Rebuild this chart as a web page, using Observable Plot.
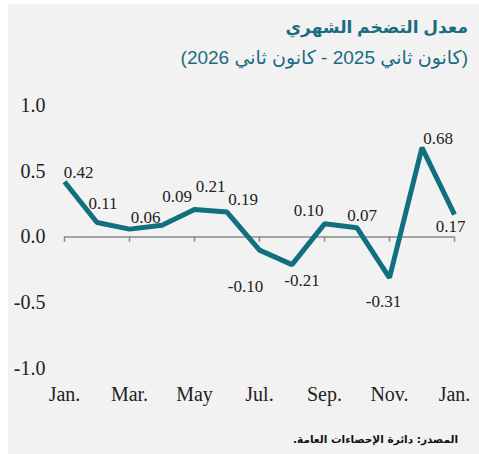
<!DOCTYPE html>
<html>
<head>
<meta charset="utf-8">
<script src="https://cdn.jsdelivr.net/npm/d3@7"></script>
<script src="https://cdn.jsdelivr.net/npm/@observablehq/plot@0.6"></script>
<style>
  html, body { margin: 0; padding: 0; background: #ffffff; }
  #panel { position: absolute; left: 8px; top: 4px; width: 471px; height: 450px; background: #f2f2f2; overflow: hidden; }
  .title { position: absolute; right: 11px; direction: rtl; color: #1a6c80; font-family: "Liberation Sans", "DejaVu Sans", sans-serif; white-space: nowrap; }
  #t1 { top: 13px; font-size: 17px; font-weight: bold; }
  #t2 { top: 42px; font-size: 19px; }
  #chart { position: absolute; left: 0; top: 0; }
  #caption { position: absolute; right: 21px; top: 429px; direction: rtl; font-family: "DejaVu Sans", sans-serif; font-size: 10.5px; font-weight: bold; color: #111; white-space: nowrap; }
</style>
</head>
<body>
<div id="panel">
  <div id="chart"></div>
  <div class="title" id="t1">معدل التضخم الشهري</div>
  <div class="title" id="t2">(كانون ثاني 2025 - كانون ثاني 2026)</div>
  <div id="caption">المصدر: دائرة الإحصاءات العامة.</div>
</div>
<script>
const months = ["Jan.", "Feb.", "Mar.", "Apr.", "May", "Jun.", "Jul.", "Aug.", "Sep.", "Oct.", "Nov.", "Dec.", "Jan."];
const values = [0.42, 0.11, 0.06, 0.09, 0.21, 0.19, -0.10, -0.21, 0.10, 0.07, -0.31, 0.68, 0.17];
const yTicks = [-1, -0.5, 0, 0.5, 1];
const xTickIndex = [0, 2, 4, 6, 8, 10, 12];
// label nudges (pixels) for each value label
const labelDx = [14, 6, 16, 15, 16, 16, -14, 10, -16, 5, -6, 16, -4];
const labelDy = [-9, -19, -12, -29, -23, -12, 36, 16, -13, -12, 24, -9, 12];

const data = values.map((v, i) => ({i, v, m: months[i]}));
const teal = "#10707f";
const grey = "#8a8a8a";

const labelMarks = data.map((d, k) =>
  Plot.text([d], {x: "i", y: "v", text: r => r.v.toFixed(2), dx: labelDx[k], dy: labelDy[k],
    fontSize: 17, fill: "#222", fontFamily: "Liberation Serif, serif"})
);

const chart = Plot.plot({
  width: 471,
  height: 410,
  marginLeft: 56,
  marginRight: 25,
  marginTop: 101,
  marginBottom: 46,
  style: {background: "transparent", fontFamily: "Liberation Serif, serif", color: "#222", overflow: "visible"},
  x: {type: "linear", domain: [0, 12], axis: null},
  y: {domain: [-1, 1], axis: null},
  marks: [
    Plot.axisY(yTicks, {anchor: "left", label: null, tickSize: 0, tickPadding: 19, fontSize: 20, tickFormat: d => d.toFixed(1)}),
    Plot.axisX(xTickIndex, {anchor: "bottom", label: null, tickSize: 0, tickPadding: 18, fontSize: 20, tickFormat: i => months[i]}),
    Plot.ruleY([0], {stroke: grey, strokeWidth: 1.5}),
    Plot.ruleX(xTickIndex, {x: d => d, y1: 0, y2: -0.04, stroke: grey, strokeWidth: 1.5}),
    Plot.line(data, {x: "i", y: "v", stroke: teal, strokeWidth: 5, strokeLinejoin: "miter", strokeLinecap: "butt"}),
    ...labelMarks
  ]
});
document.getElementById("chart").appendChild(chart);
</script>
</body>
</html>
